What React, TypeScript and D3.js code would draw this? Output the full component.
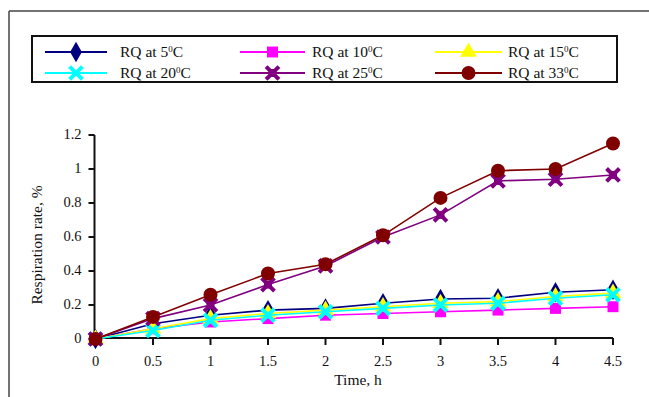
import React from "react";
import * as d3 from "d3";

const times = [0, 0.5, 1, 1.5, 2, 2.5, 3, 3.5, 4, 4.5];
const xTicks = [0, 0.5, 1, 1.5, 2, 2.5, 3, 3.5, 4, 4.5];
const yTicks = [0, 0.2, 0.4, 0.6, 0.8, 1, 1.2];

const rq5 = [0.0, 0.09, 0.14, 0.17, 0.18, 0.21, 0.235, 0.24, 0.275, 0.29];
const rq10 = [0.0, 0.06, 0.1, 0.12, 0.14, 0.15, 0.16, 0.17, 0.18, 0.19];
const rq15 = [0.0, 0.06, 0.12, 0.15, 0.17, 0.19, 0.21, 0.22, 0.25, 0.27];
const rq20 = [0.0, 0.05, 0.11, 0.14, 0.16, 0.18, 0.2, 0.21, 0.24, 0.26];
const rq25 = [0.0, 0.12, 0.2, 0.32, 0.43, 0.6, 0.73, 0.93, 0.94, 0.965];
const rq33 = [0.0, 0.13, 0.26, 0.385, 0.44, 0.61, 0.83, 0.99, 1.0, 1.15];

const seriesNames = ["5", "10", "15", "20", "25", "33"];

type S = { name: string; values: number[]; color: string; marker: string };
const series: S[] = [
  { name: seriesNames[0], values: rq5, color: "#000080", marker: "diamond" },
  { name: seriesNames[1], values: rq10, color: "#FF00FF", marker: "square" },
  { name: seriesNames[2], values: rq15, color: "#FFFF00", marker: "triangle" },
  { name: seriesNames[3], values: rq20, color: "#00FFFF", marker: "x" },
  { name: seriesNames[4], values: rq25, color: "#800080", marker: "star" },
  { name: seriesNames[5], values: rq33, color: "#800000", marker: "circle" },
];

const font = "'Liberation Serif', 'Times New Roman', serif";

function Marker({ type, color, x, y }: { type: string; color: string; x: number; y: number }) {
  const t = `translate(${x},${y})`;
  if (type === "diamond") {
    return <path transform={t} d={d3.symbol(d3.symbolDiamond, 120)()!} fill={color} />;
  }
  if (type === "square") {
    return <path transform={t} d={d3.symbol(d3.symbolSquare, 120)()!} fill={color} />;
  }
  if (type === "triangle") {
    return <path transform={t} d={d3.symbol(d3.symbolTriangle, 120)()!} fill={color} />;
  }
  if (type === "x") {
    return (
      <path transform={t} d={d3.symbol(d3.symbolTimes, 110)()!} fill="none" stroke={color} strokeWidth={4} />
    );
  }
  if (type === "star") {
    return (
      <g transform={t}>
        <path d={d3.symbol(d3.symbolTimes, 110)()!} fill="none" stroke={color} strokeWidth={4} />
        <rect x={-4} y={-4} width={8} height={8} fill={color} />
      </g>
    );
  }
  return <circle cx={x} cy={y} r={7} fill={color} />;
}

function Label({ name }: { name: string }) {
  return (
    <>
      RQ at {name}
      <tspan dy={-5} fontSize={9}>0</tspan>
      <tspan dy={5}>C</tspan>
    </>
  );
}

export default function App() {
  const x = d3.scaleLinear().domain([0, 4.5]).range([95.5, 613]);
  const y = d3.scaleLinear().domain([0, 1.2]).range([339, 135]);
  const line = d3
    .line<number>()
    .x((_, i) => x(times[i]))
    .y((d) => y(d));

  const legendCols = [
    { lx0: 45, lx1: 107, tx: 120 },
    { lx0: 240, lx1: 305, tx: 312 },
    { lx0: 435, lx1: 502, tx: 508 },
  ];
  const legendRows = [52, 73];

  return (
    <svg
      width={649}
      height={397}
      style={{ position: "absolute", left: 0, top: 0, background: "#fff" }}
      fontFamily={font}
    >
      <rect width={649} height={397} fill="#fff" />
      <line x1={9} y1={11} x2={649} y2={11} stroke="#444" strokeWidth={1.5} />
      <line x1={9} y1={11} x2={9} y2={397} stroke="#444" strokeWidth={1.5} />

      {/* legend */}
      <rect x={32} y={36} width={585} height={46} fill="#fff" stroke="#111" strokeWidth={2} />
      {series.map((s, i) => {
        const c = legendCols[i % 3];
        const ry = legendRows[Math.floor(i / 3)];
        return (
          <g key={s.name}>
            <line x1={c.lx0} x2={c.lx1} y1={ry} y2={ry} stroke={s.color} strokeWidth={2} />
            <Marker type={s.marker} color={s.color} x={(c.lx0 + c.lx1) / 2} y={ry} />
            <text x={c.tx} y={ry + 5} fontSize={15.5} fill="#111">
              <Label name={s.name} />
            </text>
          </g>
        );
      })}

      {/* axes */}
      <line x1={x(0)} x2={x(4.5)} y1={338} y2={338} stroke="#111" strokeWidth={2} />
      <line x1={x(0) - 1} x2={x(0) - 1} y1={y(1.2)} y2={338} stroke="#111" strokeWidth={2} />
      {xTicks.map((t) => (
        <g key={"x" + t}>
          <line x1={x(t)} x2={x(t)} y1={338} y2={345} stroke="#111" strokeWidth={2} />
          <text x={x(t)} y={366} textAnchor="middle" fontSize={14.5} fill="#111">
            {t}
          </text>
        </g>
      ))}
      {yTicks.map((t) => (
        <g key={"y" + t}>
          <line x1={x(0) - 7} x2={x(0) - 1} y1={y(t)} y2={y(t)} stroke="#111" strokeWidth={2} />
          <text x={x(0) - 14} y={y(t) + 4} textAnchor="end" fontSize={14.5} fill="#111">
            {t}
          </text>
        </g>
      ))}
      <text x={358} y={385} textAnchor="middle" fontSize={15.5} fill="#111">
        Time, h
      </text>
      <text
        transform={`translate(42,${(y(1.2) + 339) / 2 + 8}) rotate(-90)`}
        textAnchor="middle"
        fontSize={15.5}
        fill="#111"
      >
        Respiration rate, %
      </text>

      {/* series */}
      {series.map((s) => (
        <g key={"s" + s.name}>
          <path d={line(s.values)!} fill="none" stroke={s.color} strokeWidth={1.6} />
          {s.values.map((v, i) => (
            <Marker key={i} type={s.marker} color={s.color} x={x(times[i])} y={y(v)} />
          ))}
        </g>
      ))}
    </svg>
  );
}
